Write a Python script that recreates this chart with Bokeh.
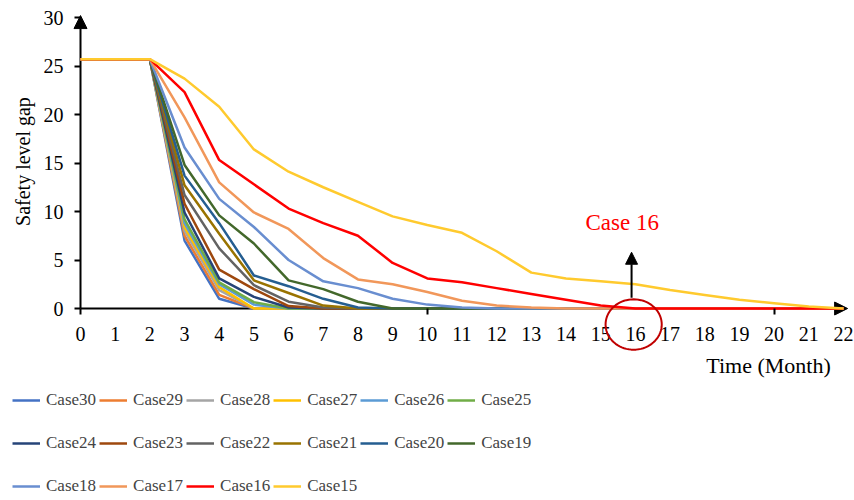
import numpy as np
from bokeh.plotting import figure
from bokeh.models import (Range1d, FixedTicker, Arrow, NormalHead, Label, Legend,
                          LegendItem, ColumnDataSource, PolyAnnotation)
from bokeh.embed import file_html
from bokeh.resources import INLINE

# ---------------- data ----------------
months = list(range(23))
x_tick_labels = [str(m) for m in months]
y_ticks = [0, 5, 10, 15, 20, 25, 30]

start = [25.7, 25.7, 25.7]
case30 = start + [7.0, 1.0] + [0] * 18
case29 = start + [7.5, 1.4] + [0] * 18
case28 = start + [8.0, 1.9] + [0] * 18
case27 = start + [8.4, 2.2] + [0] * 18
case26 = start + [8.8, 2.5, 0.4] + [0] * 17
case25 = start + [9.2, 2.7, 0.65] + [0] * 17
case24 = start + [9.9, 3.1, 1.2, 0.1] + [0] * 16
case23 = start + [10.8, 4.0, 2.0, 0.25] + [0] * 16
case22 = start + [11.7, 6.2, 2.4, 0.7, 0.1] + [0] * 15
case21 = start + [12.7, 7.7, 2.9, 1.6, 0.3] + [0] * 15
case20 = start + [13.7, 8.8, 3.4, 2.3, 1.0, 0.1] + [0] * 14
case19 = start + [14.8, 9.6, 6.7, 2.9, 2.0, 0.7] + [0] * 14
case18 = start + [16.6, 11.3, 8.4, 5.0, 2.8, 2.1, 1.0, 0.4, 0.1] + [0] * 11
case17 = start + [19.7, 13.0, 9.9, 8.2, 5.2, 3.0, 2.5, 1.7, 0.8, 0.3, 0.1] + [0] * 9
case16 = start + [22.3, 15.3, 12.8, 10.3, 8.8, 7.5, 4.7, 3.1, 2.7, 2.1, 1.5, 0.9, 0.3] + [0] * 7
case15 = start + [23.7, 20.8, 16.4, 14.1, 12.5, 11.0, 9.5, 8.6, 7.8, 5.9, 3.7, 3.1,
                  2.8, 2.5, 1.9, 1.4, 0.9, 0.55, 0.2, 0.0]

series_names = ["Case30", "Case29", "Case28", "Case27", "Case26", "Case25",
                "Case24", "Case23", "Case22", "Case21", "Case20", "Case19",
                "Case18", "Case17", "Case16", "Case15"]
series_values = [case30, case29, case28, case27, case26, case25,
                 case24, case23, case22, case21, case20, case19,
                 case18, case17, case16, case15]
colors = ["#4472C4", "#ED7D31", "#A5A5A5", "#FFC000", "#5B9BD5", "#70AD47",
          "#264478", "#9E480E", "#636363", "#997300", "#255E91", "#43682B",
          "#698ED0", "#F1975A", "#FF0000", "#FFCA2E"]

FONT = "Liberation Serif"
src = ColumnDataSource(dict(month=months, **{n: v for n, v in zip(series_names, series_values)}))

# ---------------- chart ----------------
# The frame covers the whole canvas; both axes are pinned at 0 inside it, so the
# legend, the axis title and the red ring below the axis are not clipped.
p = figure(width=854, height=500, output_backend="svg", toolbar_location=None,
           title=None,
           x_range=Range1d(-2.3068, 22.318), y_range=Range1d(-19.794, 31.753))
p.min_border_left = 0
p.min_border_right = 0
p.min_border_top = 0
p.min_border_bottom = 0
p.outline_line_color = None
p.xgrid.grid_line_color = None
p.ygrid.grid_line_color = None

renderers = []
for name, col in zip(series_names, colors):
    renderers.append(p.line("month", name, source=src, line_color=col, line_width=2.5))

xax = p.xaxis[0]
xax.fixed_location = 0
xax.bounds = (0, 22)
xax.ticker = FixedTicker(ticks=months, minor_ticks=[0, 10, 20])
xax.major_label_overrides = {m: lab for m, lab in zip(months, x_tick_labels)}
xax.axis_line_color = None
xax.major_tick_line_color = None
xax.major_tick_out = 6
xax.major_tick_in = 0
xax.minor_tick_line_color = "black"
xax.minor_tick_line_width = 2
xax.minor_tick_in = 0
xax.minor_tick_out = 6
xax.major_label_text_font = FONT
xax.major_label_text_font_size = "20px"
xax.major_label_text_color = "black"
xax.major_label_standoff = 12

yax = p.yaxis[0]
yax.fixed_location = 0
yax.bounds = (0, 30)
yax.ticker = FixedTicker(ticks=y_ticks)
yax.axis_line_color = None
yax.major_tick_line_color = "black"
yax.major_tick_line_width = 2
yax.major_tick_out = 6
yax.major_tick_in = 0
yax.minor_tick_line_color = None
yax.major_label_text_font = FONT
yax.major_label_text_font_size = "20px"
yax.major_label_text_color = "black"
yax.major_label_standoff = 11

# axis titles
p.add_layout(Label(x=-1.672, y=15.15, text="Safety level gap", angle=np.pi / 2,
                   text_font=FONT, text_font_size="20px", text_color="black",
                   text_align="center", text_baseline="middle"))
p.add_layout(Label(x=19.84, y=-5.88, text="Time (Month)", text_color="black",
                   text_font=FONT, text_font_size="22px",
                   text_align="center", text_baseline="middle"))

# axis lines with arrow heads (under the data lines)
p.add_layout(Arrow(x_start=0, y_start=0, x_end=0, y_end=30.2, line_width=2,
                   line_color="black", level="underlay",
                   end=NormalHead(size=13, fill_color="black", line_color="black")))
p.add_layout(Arrow(x_start=0, y_start=0, x_end=22.12, y_end=0, line_width=2,
                   line_color="black", level="underlay",
                   end=NormalHead(size=13, fill_color="black", line_color="black")))

# annotation: Case 16
p.add_layout(Arrow(x_start=15.89, y_start=1.1, x_end=15.89, y_end=5.8, line_width=2,
                   line_color="black",
                   end=NormalHead(size=12, fill_color="black", line_color="black")))
p.add_layout(Label(x=15.62, y=8.9, text="Case 16", text_color="#FF0000",
                   text_font=FONT, text_font_size="23px",
                   text_align="center", text_baseline="middle"))
theta = np.linspace(0, 2 * np.pi, 73)
p.add_layout(PolyAnnotation(xs=list(15.95 + 0.81 * np.cos(theta)),
                            ys=list(-1.65 + 2.6 * np.sin(theta)),
                            fill_alpha=0, line_color="#C00000", line_alpha=1.0,
                            line_width=2, level="overlay"))

# legend: three rows under the chart
row_slices = [(0, 6, 86), (6, 12, 43), (12, 16, 0)]
for a, b, ybot in row_slices:
    items = [LegendItem(label=series_names[i], renderers=[renderers[i]]) for i in range(a, b)]
    p.add_layout(Legend(items=items, orientation="horizontal", location=(12, ybot),
                        label_text_font=FONT, label_text_font_size="17px",
                        glyph_width=28, glyph_height=28, label_height=28, label_width=49,
                        label_standoff=6, spacing=3, padding=0, margin=0,
                        border_line_color=None, background_fill_alpha=0))

open("out.html", "w").write(file_html(p, INLINE))
